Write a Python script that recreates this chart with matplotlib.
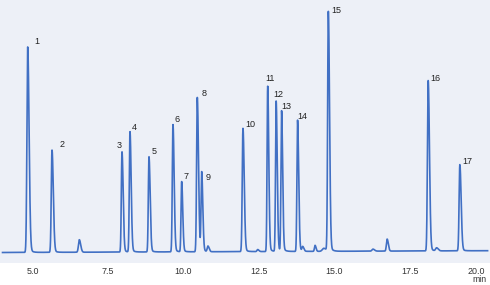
import numpy as np
import matplotlib
matplotlib.use("Agg")
import matplotlib.pyplot as plt

plt.rcParams['font.family'] = ['Liberation Sans', 'DejaVu Sans']

# numbered peaks: retention time (min), height (a.u.), width (min)
peak_labels = ["1", "2", "3", "4", "5", "6", "7", "8", "9",
               "10", "11", "12", "13", "14", "15", "16", "17"]
peak_times = [4.834, 5.640, 7.960, 8.225, 8.855, 9.650, 9.938, 10.456, 10.601,
              11.970, 12.790, 13.070, 13.250, 13.780, 14.800, 18.110, 19.160]
peak_heights = [205, 102, 100, 120, 95, 127, 70, 154, 79,
                123, 165, 150, 140, 131, 239, 170, 86]
peak_widths = [0.032, 0.030, 0.027, 0.027, 0.027, 0.027, 0.025, 0.028, 0.026,
               0.029, 0.025, 0.025, 0.025, 0.026, 0.028, 0.030, 0.030]

# small unlabelled peaks
minor_times = [6.545, 10.81, 12.46, 13.95, 14.36, 14.65, 16.28, 16.75, 18.39]
minor_heights = [12.5, 5.5, 2.0, 4.5, 6.0, 3.0, 2.0, 12.0, 3.0]
minor_widths = [0.035, 0.03, 0.03, 0.03, 0.025, 0.06, 0.04, 0.03, 0.04]

# baseline level at start and end of the run
baseline_ends = [0.0, 1.8]

tick_vals = [5.0, 7.5, 10.0, 12.5, 15.0, 17.5, 20.0]

# label offsets in pixels relative to peak apex
label_offsets = [(9, 6), (10, 6), (-3, 7), (4, 5), (5, 6), (4, 6), (4, 6), (7, 5),
                 (6, -4), (7, 5), (2, 9), (2, 8), (5, 6), (5, 5), (8, 3), (7, 4), (7, 5)]

t = np.linspace(4.0, 20.08, 8000)
signal = np.interp(t, [t[0], t[-1]], baseline_ends)


def peak(tt, t0, h, w, tail=1.4):
    # asymmetric gaussian: steeper front, slower tail
    s = np.where(tt < t0, w * 0.8, w * tail)
    return h * np.exp(-0.5 * ((tt - t0) / s) ** 2)


def tailing(tt, t0, h, tau):
    # exponential tail behind the apex, smoothly switched on
    on = 1 / (1 + np.exp(-(tt - t0 - 0.03) / 0.01))
    return h * on * np.exp(-np.clip(tt - t0, 0, None) / tau)


for t0, h, w in zip(peak_times, peak_heights, peak_widths):
    signal += peak(t, t0, h, w)
    signal += tailing(t, t0, h * 0.045, 0.07)
for t0, h, w in zip(minor_times, minor_heights, minor_widths):
    signal += peak(t, t0, h, w, tail=1.3)

fig = plt.figure(figsize=(4.9, 2.85), dpi=100)
ax = fig.add_axes([0, 22 / 285, 1, 263 / 285])
ax.set_facecolor('#edf0f7')
ax.plot(t, signal, color='#4170c4', lw=1.2)

ax.set_xlim(3.916, 20.16)
ax.set_ylim(-10.5, 252.5)
for sp in ax.spines.values():
    sp.set_visible(False)
ax.set_yticks([])
ax.set_xticks(tick_vals)
ax.set_xticklabels([f"{v:.1f}" for v in tick_vals], fontsize=6.4, color='#333333')
ax.tick_params(axis='x', length=0, pad=3)
ax.get_xticklabels()[-1].set_horizontalalignment('right')

for lab, t0, h, (dx, dy) in zip(peak_labels, peak_times, peak_heights, label_offsets):
    ax.annotate(lab, (t0, h), xytext=(dx, dy), textcoords='offset pixels',
                ha='center', va='center', fontsize=6.5, color='#222222')

fig.text(487 / 490, 1 - 279.5 / 285, "min", ha='right', va='center',
         fontsize=6.2, color='#333333')

fig.savefig("out.png", dpi=100)
